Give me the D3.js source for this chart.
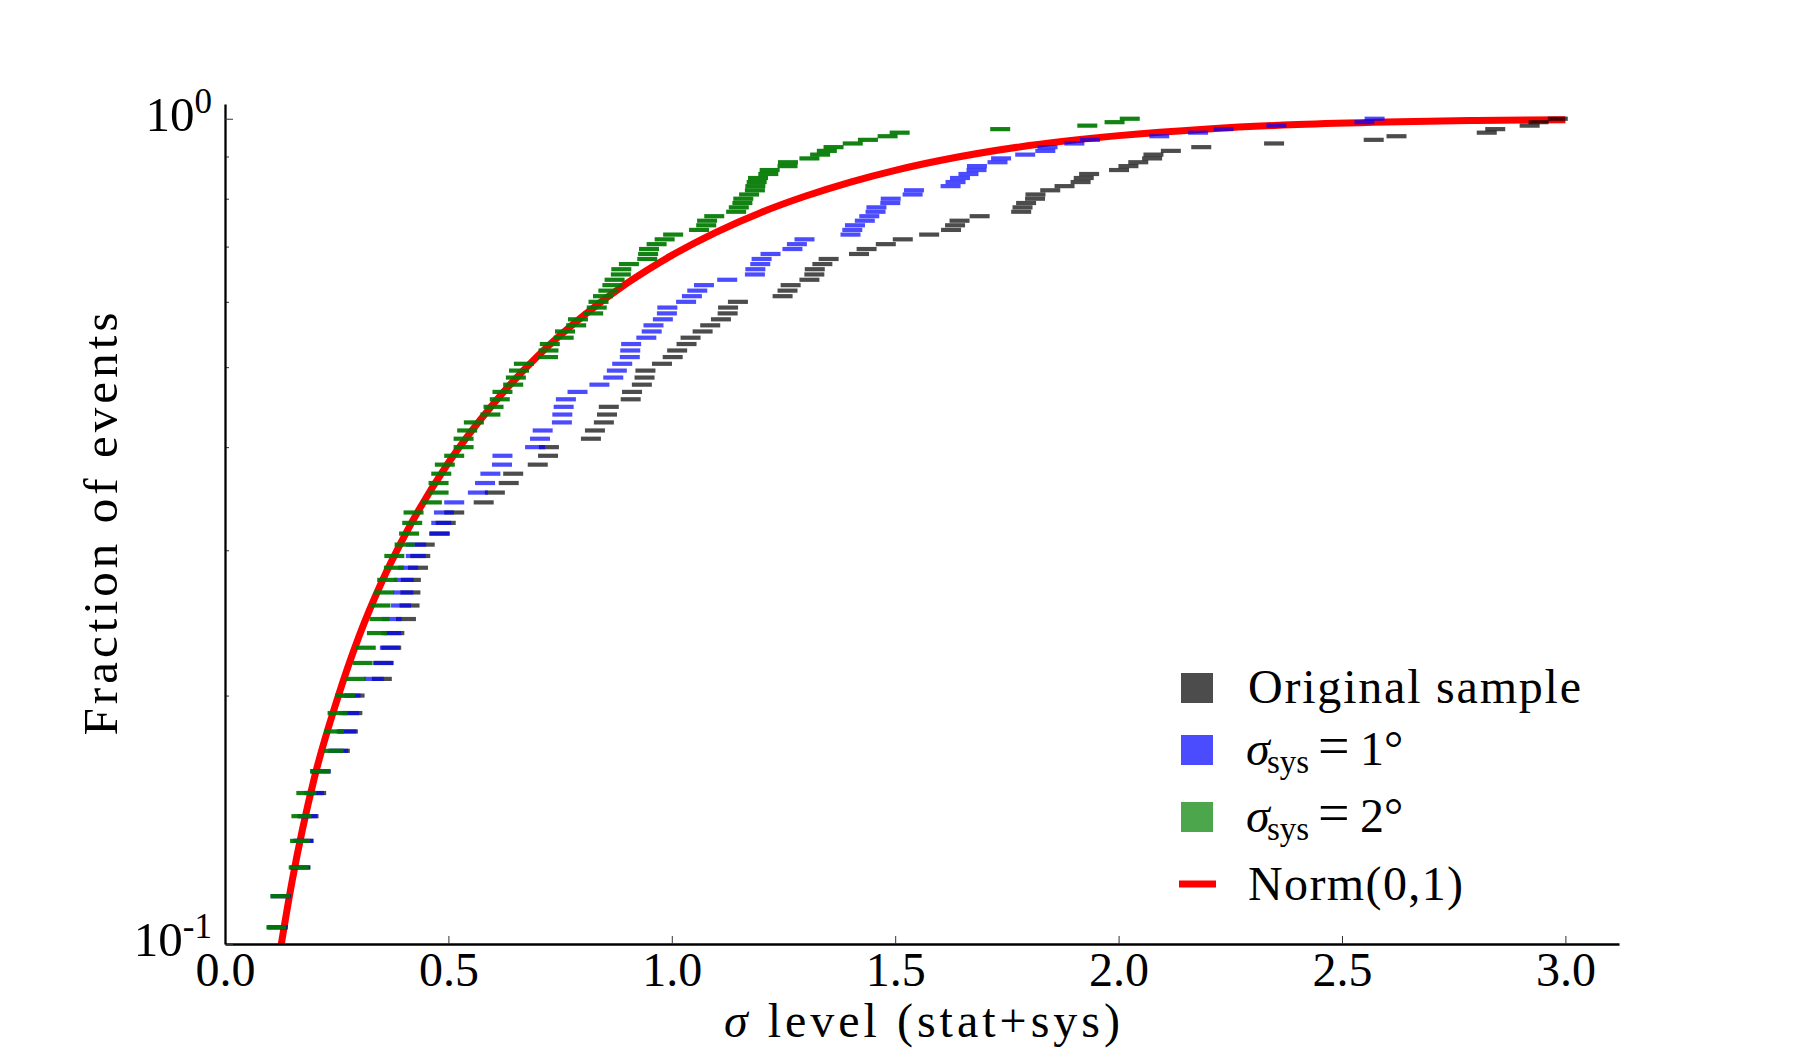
<!DOCTYPE html>
<html>
<head>
<meta charset="utf-8">
<script src="https://cdn.jsdelivr.net/npm/d3@7"></script>
<style>
body { margin: 0; background: white; }
text { font-family: "Liberation Serif", "DejaVu Serif", serif; fill: black; }
</style>
</head>
<body>
<svg width="1800" height="1050"></svg>
<script>
// ---- values ----

// cumulative fraction of a point = rank / nEvents; ranks below 11 fall under 10^-1
const nEvents = 105;
const firstRank = 11;

// sorted sigma levels, rank 11 .. 105
const originalSample = [
	0.118, 0.125, 0.169, 0.176, 0.187, 0.204, 0.214, 0.257, 0.275, 0.285,
	0.290, 0.351, 0.355, 0.372, 0.379, 0.405, 0.413, 0.415, 0.416, 0.432,
	0.437, 0.447, 0.481, 0.494, 0.513, 0.579, 0.604, 0.635, 0.645, 0.700,
	0.723, 0.725, 0.819, 0.828, 0.848, 0.855, 0.859, 0.908, 0.911, 0.933,
	0.939, 0.941, 0.978, 1.002, 1.012, 1.033, 1.042, 1.069, 1.086, 1.110,
	1.125, 1.126, 1.148, 1.248, 1.259, 1.266, 1.308, 1.319, 1.320, 1.337,
	1.351, 1.419, 1.436, 1.479, 1.517, 1.576, 1.625, 1.634, 1.644, 1.689,
	1.782, 1.785, 1.793, 1.813, 1.814, 1.847, 1.879, 1.915, 1.922, 1.934,
	2.001, 2.022, 2.044, 2.075, 2.078, 2.117, 2.185, 2.348, 2.571, 2.622,
	2.824, 2.843, 2.920, 2.940, 2.983
];
const sysOneDeg = [
	0.117, 0.125, 0.168, 0.175, 0.184, 0.199, 0.214, 0.253, 0.272, 0.278,
	0.281, 0.333, 0.354, 0.369, 0.372, 0.373, 0.394, 0.399, 0.400, 0.410,
	0.427, 0.428, 0.479, 0.484, 0.490, 0.513, 0.566, 0.582, 0.594, 0.620,
	0.621, 0.694, 0.705, 0.711, 0.754, 0.755, 0.758, 0.763, 0.789, 0.838,
	0.869, 0.877, 0.889, 0.906, 0.907, 0.909, 0.943, 0.955, 0.959, 0.980,
	0.989, 0.990, 1.032, 1.045, 1.057, 1.072, 1.124, 1.186, 1.187, 1.198,
	1.201, 1.221, 1.270, 1.280, 1.297, 1.400, 1.404, 1.410, 1.432, 1.442,
	1.456, 1.458, 1.489, 1.490, 1.539, 1.542, 1.624, 1.635, 1.645, 1.664,
	1.682, 1.683, 1.729, 1.737, 1.791, 1.836, 1.841, 1.901, 1.936, 2.091,
	2.178, 2.235, 2.353, 2.550, 2.573
];
const sysTwoDeg = [
	0.115, 0.124, 0.165, 0.168, 0.171, 0.182, 0.213, 0.243, 0.244, 0.252,
	0.269, 0.293, 0.308, 0.315, 0.340, 0.346, 0.348, 0.356, 0.363, 0.378,
	0.379, 0.402, 0.412, 0.419, 0.422, 0.463, 0.478, 0.478, 0.484, 0.492,
	0.513, 0.534, 0.534, 0.542, 0.557, 0.594, 0.601, 0.615, 0.621, 0.645,
	0.651, 0.658, 0.669, 0.723, 0.724, 0.727, 0.758, 0.761, 0.786, 0.790,
	0.824, 0.832, 0.836, 0.846, 0.858, 0.867, 0.872, 0.886, 0.887, 0.904,
	0.945, 0.947, 0.949, 0.966, 0.984, 1.003, 1.061, 1.077, 1.079, 1.095,
	1.144, 1.150, 1.158, 1.160, 1.173, 1.186, 1.187, 1.190, 1.193, 1.216,
	1.219, 1.259, 1.260, 1.308, 1.332, 1.347, 1.362, 1.405, 1.439, 1.483,
	1.510, 1.735, 1.930, 1.991, 2.025
];

// Norm(0,1) curve, read at these sigma levels
const normSigma = [0.12, 0.15, 0.2, 0.25, 0.3, 0.35, 0.4, 0.5, 0.6, 0.7, 0.8, 0.9, 1.0,
	1.1, 1.2, 1.3, 1.4, 1.5, 1.6, 1.8, 2.0, 2.2, 2.4, 2.6, 2.8, 3.0];
const normFraction = [0.0955, 0.119, 0.159, 0.197, 0.236, 0.274, 0.311, 0.383, 0.451, 0.516,
	0.576, 0.632, 0.683, 0.729, 0.770, 0.806, 0.838, 0.866, 0.890, 0.928, 0.954, 0.972,
	0.984, 0.991, 0.995, 0.997];

const xTicks = [0, 0.5, 1, 1.5, 2, 2.5, 3];
const xTickLabels = ["0.0", "0.5", "1.0", "1.5", "2.0", "2.5", "3.0"];
const yMajorTicks = [0.1, 1];
const yMajorExponents = ["-1", "0"];
const yMinorTicks = [0.2, 0.3, 0.4, 0.5, 0.6, 0.7, 0.8, 0.9];

// ---- layout ----
const plotLeft = 225, plotRight = 1619, plotTop = 104, plotBottom = 944;

const svg = d3.select("svg");

const x = d3.scaleLinear().domain([0, 3.12]).range([plotLeft, plotRight]);
const y = d3.scaleLog().domain([0.1, 1.042]).range([plotBottom, plotTop]);

svg.append("defs").append("clipPath").attr("id", "plotClip")
	.append("rect").attr("x", plotLeft).attr("y", plotTop)
	.attr("width", plotRight - plotLeft).attr("height", plotBottom - plotTop);

const plot = svg.append("g").attr("clip-path", "url(#plotClip)");

// red curve goes under the dashes
let normPoints = normSigma.map(function(s, k) { return {x: s, y: normFraction[k]}; });
plot.append("path").datum(normPoints)
	.attr("fill", "none").attr("stroke", "#ff0000").attr("stroke-width", 7)
	.attr("d", d3.line().x(function(d) { return x(d.x); }).y(function(d) { return y(d.y); })
		.curve(d3.curveMonotoneX));

/** Turns a sorted sample into points of its cumulative fraction. */
function toCdf(values) {
	return values.map(function(v, k) {
		return {x: v, y: (firstRank + k) / nEvents};
	});
}

const series = [
	{values: originalSample, color: "black", opacity: 0.7},
	{values: sysOneDeg, color: "blue", opacity: 0.7},
	{values: sysTwoDeg, color: "#007a00", opacity: 0.93}
];

// horizontal dash markers
series.forEach(function(s) {
	plot.append("g").selectAll("rect").data(toCdf(s.values)).enter().append("rect")
		.attr("x", function(d) { return x(d.x) - 10; })
		.attr("y", function(d) { return y(d.y) - 2.1; })
		.attr("width", 20).attr("height", 4.2)
		.attr("fill", s.color).attr("fill-opacity", s.opacity);
});

// ---- axes ----
const gx = svg.append("g").attr("transform", "translate(0," + plotBottom + ")")
	.call(d3.axisBottom(x).tickValues(xTicks)
		.tickFormat(function(d, k) { return xTickLabels[k]; })
		.tickSizeInner(-8).tickSizeOuter(0));
gx.attr("font-size", 48).attr("font-family", null);
gx.select(".domain").attr("stroke", "black").attr("stroke-width", 2.3);
gx.selectAll(".tick line").attr("stroke", "#333").attr("stroke-width", 1);
gx.selectAll(".tick text").attr("y", 42).attr("dy", "0").attr("fill", "black");

const gyMinor = svg.append("g").attr("transform", "translate(" + plotLeft + ",0)")
	.call(d3.axisLeft(y).tickValues(yMinorTicks).tickFormat("")
		.tickSizeInner(-4).tickSizeOuter(0));
gyMinor.select(".domain").remove();
gyMinor.selectAll(".tick line").attr("stroke", "#333").attr("stroke-width", 1);

const gy = svg.append("g").attr("transform", "translate(" + plotLeft + ",0)")
	.call(d3.axisLeft(y).tickValues(yMajorTicks).tickFormat("")
		.tickSizeInner(-8).tickSizeOuter(0));
gy.select(".domain").attr("stroke", "black").attr("stroke-width", 2.3);
gy.selectAll(".tick line").attr("stroke", "#333").attr("stroke-width", 1);

// 10^n labels
svg.append("g").selectAll("text").data(yMajorTicks).enter().append("text")
	.attr("x", plotLeft - 13)
	.attr("y", function(d) { return y(d) + 12; })
	.attr("text-anchor", "end")
	.each(function(d, k) {
		let t = d3.select(this);
		t.append("tspan").attr("font-size", 49).text("10");
		t.append("tspan").attr("font-size", 35).attr("dy", -18).text(yMajorExponents[k]);
	});

// axis titles
const xTitle = svg.append("text").attr("x", (plotLeft + plotRight) / 2).attr("y", 1037)
	.attr("text-anchor", "middle").attr("font-size", 48)
	.attr("textLength", 396).attr("lengthAdjust", "spacing");
xTitle.append("tspan").attr("font-style", "italic").text("σ");
xTitle.append("tspan").text(" level (stat+sys)");

svg.append("text").attr("transform", "translate(117," + ((plotTop + plotBottom) / 2) + ") rotate(-90)")
	.attr("text-anchor", "middle").attr("font-size", 49)
	.attr("textLength", 423).attr("lengthAdjust", "spacing")
	.text("Fraction of events");

// ---- legend ----
const legendEntries = [
	{kind: "patch", color: "black", label: "Original sample"},
	{kind: "patch", color: "blue", sys: "1"},
	{kind: "patch", color: "#008000", sys: "2"},
	{kind: "line", color: "#ff0000", label: "Norm(0,1)"}
];
const legendBase = [703, 765, 832, 900];

const legend = svg.append("g");
legendEntries.forEach(function(e, k) {
	let base = legendBase[k];
	if (e.kind == "patch") {
		legend.append("rect").attr("x", 1181).attr("y", base - 30)
			.attr("width", 32).attr("height", 30)
			.attr("fill", e.color).attr("fill-opacity", 0.7);
	} else {
		legend.append("line").attr("x1", 1179).attr("x2", 1216)
			.attr("y1", base - 16).attr("y2", base - 16)
			.attr("stroke", e.color).attr("stroke-width", 7);
	}
	if (e.label) {
		legend.append("text").attr("x", 1248).attr("y", base).attr("font-size", 48)
			.attr("textLength", e.kind == "patch" ? 333 : 215).attr("lengthAdjust", "spacing")
			.text(e.label);
	} else {
		legend.append("text").attr("x", 1246).attr("y", base).attr("font-size", 48)
			.attr("font-style", "italic").text("σ");
		legend.append("text").attr("x", 1267).attr("y", base + 8).attr("font-size", 33).text("sys");
		legend.append("text").attr("x", 1318).attr("y", base).attr("font-size", 56).text("=");
		legend.append("text").attr("x", 1360).attr("y", base).attr("font-size", 48).text(e.sys + "°");
	}
});
</script>
</body>
</html>
